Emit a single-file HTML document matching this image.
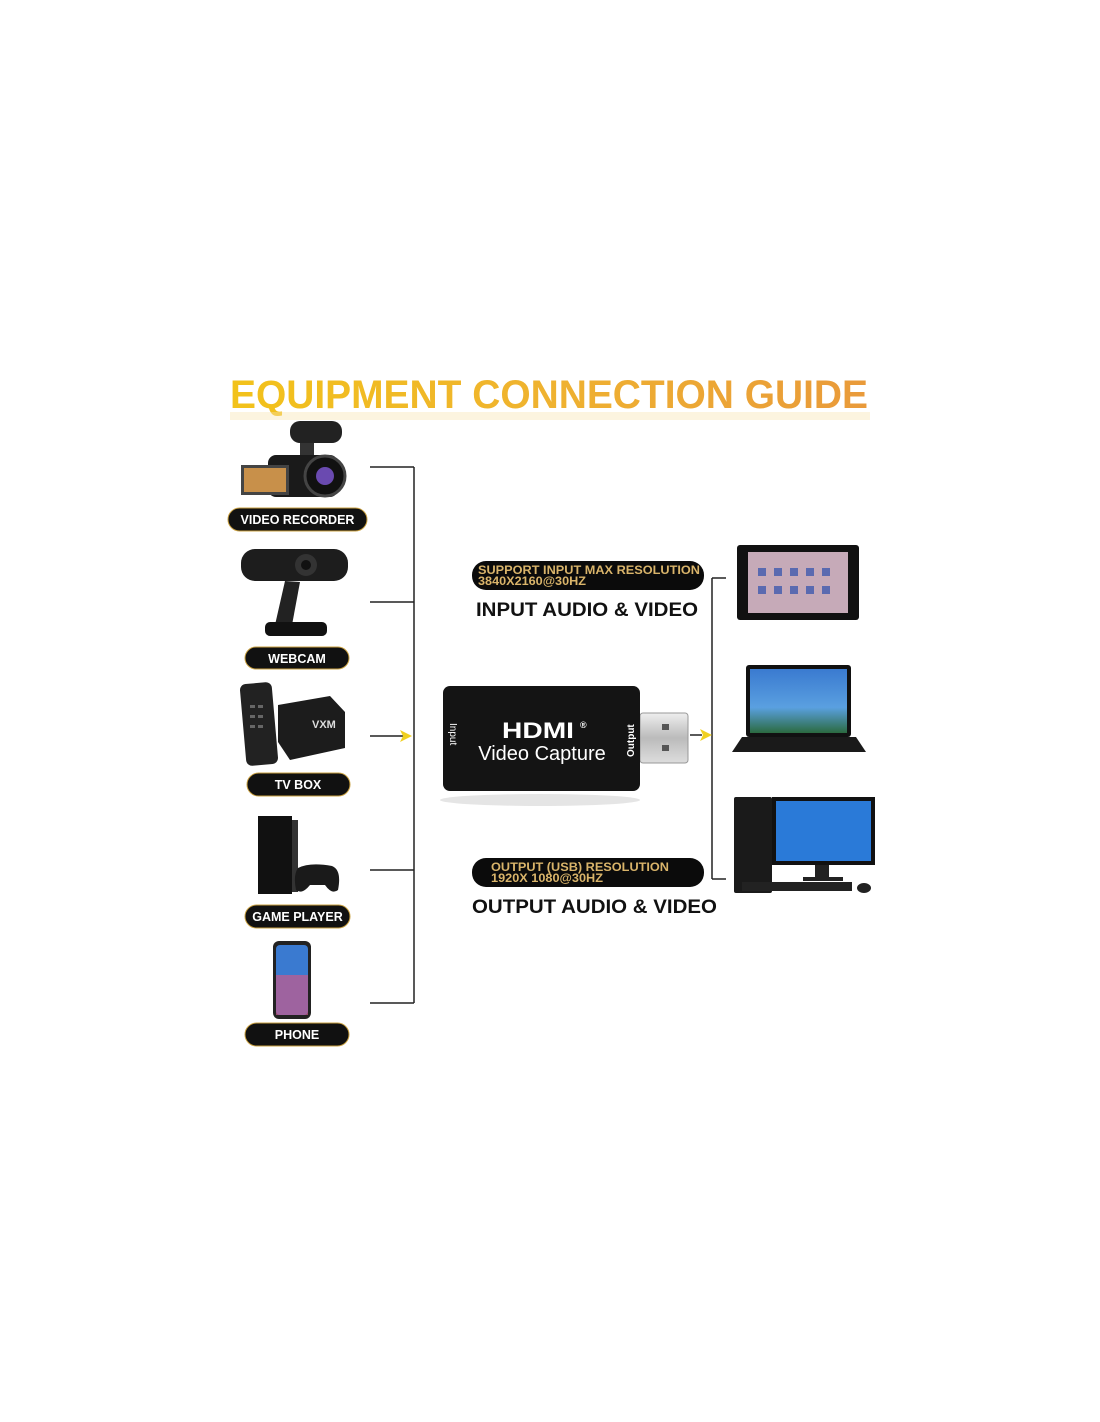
<!DOCTYPE html>
<html><head><style>
body{margin:0;background:#fff;}
svg{display:block;}
text{font-family:"Liberation Sans",sans-serif;font-weight:bold;}
</style></head><body>
<svg width="1100" height="1422" viewBox="0 0 1100 1422">
<defs>
<linearGradient id="gt" x1="0" y1="0" x2="1" y2="0">
<stop offset="0" stop-color="#f2c21a"/><stop offset="0.5" stop-color="#efb230"/><stop offset="1" stop-color="#e99a3a"/>
</linearGradient>
<linearGradient id="usb" x1="0" y1="0" x2="0" y2="1">
<stop offset="0" stop-color="#eee"/><stop offset="0.5" stop-color="#bbb"/><stop offset="1" stop-color="#ddd"/>
</linearGradient>
<linearGradient id="scr" x1="0" y1="0" x2="0" y2="1">
<stop offset="0" stop-color="#3a7ad0"/><stop offset="0.6" stop-color="#5aa0e0"/><stop offset="1" stop-color="#2b6a40"/>
</linearGradient>
</defs>
<!-- title -->
<text x="549" y="408" text-anchor="middle" font-size="40" fill="url(#gt)" textLength="638" lengthAdjust="spacingAndGlyphs">EQUIPMENT CONNECTION GUIDE</text>
<rect x="230" y="412" width="640" height="8" fill="#f7e3b0" opacity="0.4"/>

<!-- left bracket -->
<g stroke="#222" stroke-width="1.5" fill="none">
<line x1="370" y1="467" x2="414" y2="467"/>
<line x1="370" y1="602" x2="414" y2="602"/>
<line x1="370" y1="870" x2="414" y2="870"/>
<line x1="370" y1="1003" x2="414" y2="1003"/>
<line x1="414" y1="467" x2="414" y2="1003"/>
<line x1="370" y1="736" x2="404" y2="736"/>
<line x1="712" y1="578" x2="712" y2="879"/>
<line x1="712" y1="578" x2="726" y2="578"/>
<line x1="712" y1="879" x2="726" y2="879"/>
<line x1="690" y1="735" x2="702" y2="735"/>
</g>
<polygon points="400,730 412,736 400,742 403,736" fill="#f0d020"/>
<polygon points="700,729 712,735 700,741 703,735" fill="#f0d020"/>

<!-- left pills -->
<g font-size="12.5" fill="#fff" text-anchor="middle">
<rect x="228" y="508" width="139" height="23" rx="11.5" fill="#111" stroke="#c9a040" stroke-width="1"/>
<text x="297.5" y="524">VIDEO RECORDER</text>
<rect x="245" y="647" width="104" height="22" rx="11" fill="#111" stroke="#c9a040"/>
<text x="297" y="663">WEBCAM</text>
<rect x="247" y="773" width="103" height="23" rx="11.5" fill="#111" stroke="#c9a040"/>
<text x="298" y="789">TV BOX</text>
<rect x="245" y="905" width="105" height="23" rx="11.5" fill="#111" stroke="#c9a040"/>
<text x="297.5" y="921">GAME PLAYER</text>
<rect x="245" y="1023" width="104" height="23" rx="11.5" fill="#111" stroke="#c9a040"/>
<text x="297" y="1039">PHONE</text>
</g>

<!-- camera -->
<rect x="290" y="421" width="52" height="22" rx="10" fill="#222"/>
<rect x="300" y="443" width="14" height="14" fill="#333"/>
<rect x="268" y="455" width="70" height="42" rx="8" fill="#1a1a1a"/>
<circle cx="325" cy="476" r="20" fill="#111" stroke="#444" stroke-width="3"/>
<circle cx="325" cy="476" r="9" fill="#6a4ab0"/>
<rect x="241" y="465" width="48" height="30" fill="#444"/>
<rect x="244" y="468" width="42" height="24" fill="#c8904a"/>
<!-- webcam -->
<rect x="241" y="549" width="107" height="32" rx="14" fill="#1d1d1d"/>
<circle cx="306" cy="565" r="11" fill="#333"/><circle cx="306" cy="565" r="5" fill="#111"/>
<path d="M285 581 L300 582 L292 625 L275 625 Z" fill="#222"/>
<rect x="265" y="622" width="62" height="14" rx="5" fill="#111"/>
<!-- tv box -->
<rect x="243" y="683" width="32" height="82" rx="6" fill="#222" transform="rotate(-5 259 724)"/>
<g fill="#666"><rect x="250" y="705" width="5" height="3"/><rect x="258" y="705" width="5" height="3"/><rect x="250" y="715" width="5" height="3"/><rect x="258" y="715" width="5" height="3"/><rect x="250" y="725" width="5" height="3"/><rect x="258" y="725" width="5" height="3"/></g>
<path d="M278 705 L330 696 L345 712 L345 748 L290 760 L278 742 Z" fill="#1c1c1c"/>
<text x="312" y="728" font-size="11" fill="#ddd">VXM</text>
<!-- ps4 -->
<rect x="258" y="816" width="34" height="78" fill="#111"/>
<rect x="292" y="820" width="6" height="72" fill="#333"/>
<path d="M298 868 Q310 862 332 866 Q342 870 338 890 Q332 895 325 885 L310 885 Q302 895 296 890 Q293 875 298 868 Z" fill="#1a1a1a"/>
<!-- phone -->
<rect x="273" y="941" width="38" height="78" rx="6" fill="#222"/>
<rect x="276" y="945" width="32" height="70" rx="4" fill="#3a7ad0"/>
<rect x="276" y="975" width="32" height="40" fill="#c95a8a" opacity="0.7"/>

<!-- capture device -->
<ellipse cx="540" cy="800" rx="100" ry="6" fill="#ccc" opacity="0.5"/>
<rect x="640" y="713" width="48" height="50" rx="3" fill="url(#usb)" stroke="#999"/>
<rect x="662" y="724" width="7" height="6" fill="#555"/>
<rect x="662" y="745" width="7" height="6" fill="#555"/>
<rect x="443" y="686" width="197" height="105" rx="7" fill="#141414"/>
<text x="538" y="738" font-size="22" fill="#fff" text-anchor="middle" font-family="Liberation Sans" textLength="72" lengthAdjust="spacingAndGlyphs">HDMI</text>
<text x="580" y="728" font-size="9" fill="#fff">®</text>
<text x="542" y="760" font-size="20" fill="#fff" text-anchor="middle" style="font-weight:normal">Video Capture</text>
<text x="0" y="0" font-size="10" fill="#fff" transform="translate(450 723) rotate(90)" style="font-weight:normal">Input</text>
<text x="0" y="0" font-size="10" fill="#fff" transform="translate(634 757) rotate(-90)">Output</text>

<!-- right pills -->
<rect x="472" y="561" width="232" height="29" rx="14" fill="#0b0b0b"/>
<text x="478" y="574" font-size="12" fill="#d9b46a" textLength="222" lengthAdjust="spacingAndGlyphs">SUPPORT INPUT MAX RESOLUTION</text>
<text x="478" y="585" font-size="12" fill="#d9b46a" textLength="108" lengthAdjust="spacingAndGlyphs">3840X2160@30HZ</text>
<text x="476" y="616" font-size="19" fill="#111" textLength="222" lengthAdjust="spacingAndGlyphs">INPUT AUDIO &amp; VIDEO</text>
<rect x="472" y="858" width="232" height="29" rx="14" fill="#0b0b0b"/>
<text x="491" y="871" font-size="12" fill="#d9b46a" textLength="178" lengthAdjust="spacingAndGlyphs">OUTPUT (USB) RESOLUTION</text>
<text x="491" y="882" font-size="12" fill="#d9b46a" textLength="112" lengthAdjust="spacingAndGlyphs">1920X 1080@30HZ</text>
<text x="472" y="913" font-size="19" fill="#111" textLength="245" lengthAdjust="spacingAndGlyphs">OUTPUT AUDIO &amp; VIDEO</text>

<!-- tablet -->
<rect x="737" y="545" width="122" height="75" rx="3" fill="#111"/>
<rect x="748" y="552" width="100" height="61" fill="#c6aab8"/>
<g fill="#5a6ab0"><rect x="758" y="568" width="8" height="8"/><rect x="774" y="568" width="8" height="8"/><rect x="790" y="568" width="8" height="8"/><rect x="806" y="568" width="8" height="8"/><rect x="822" y="568" width="8" height="8"/><rect x="758" y="586" width="8" height="8"/><rect x="774" y="586" width="8" height="8"/><rect x="790" y="586" width="8" height="8"/><rect x="806" y="586" width="8" height="8"/><rect x="822" y="586" width="8" height="8"/></g>
<!-- laptop -->
<rect x="746" y="665" width="105" height="72" rx="3" fill="#111"/>
<rect x="750" y="669" width="97" height="64" fill="url(#scr)"/>
<path d="M742 737 L856 737 L866 752 L732 752 Z" fill="#1a1a1a"/>
<!-- desktop -->
<rect x="734" y="797" width="38" height="96" rx="2" fill="#1a1a1a"/>
<rect x="772" y="797" width="103" height="68" fill="#111"/>
<rect x="776" y="801" width="95" height="60" fill="#2a7ad8"/>
<rect x="815" y="865" width="14" height="12" fill="#222"/>
<rect x="803" y="877" width="40" height="4" fill="#222"/>
<rect x="742" y="882" width="110" height="9" fill="#222"/>
<ellipse cx="864" cy="888" rx="7" ry="5" fill="#222"/>
</svg>
</body></html>
